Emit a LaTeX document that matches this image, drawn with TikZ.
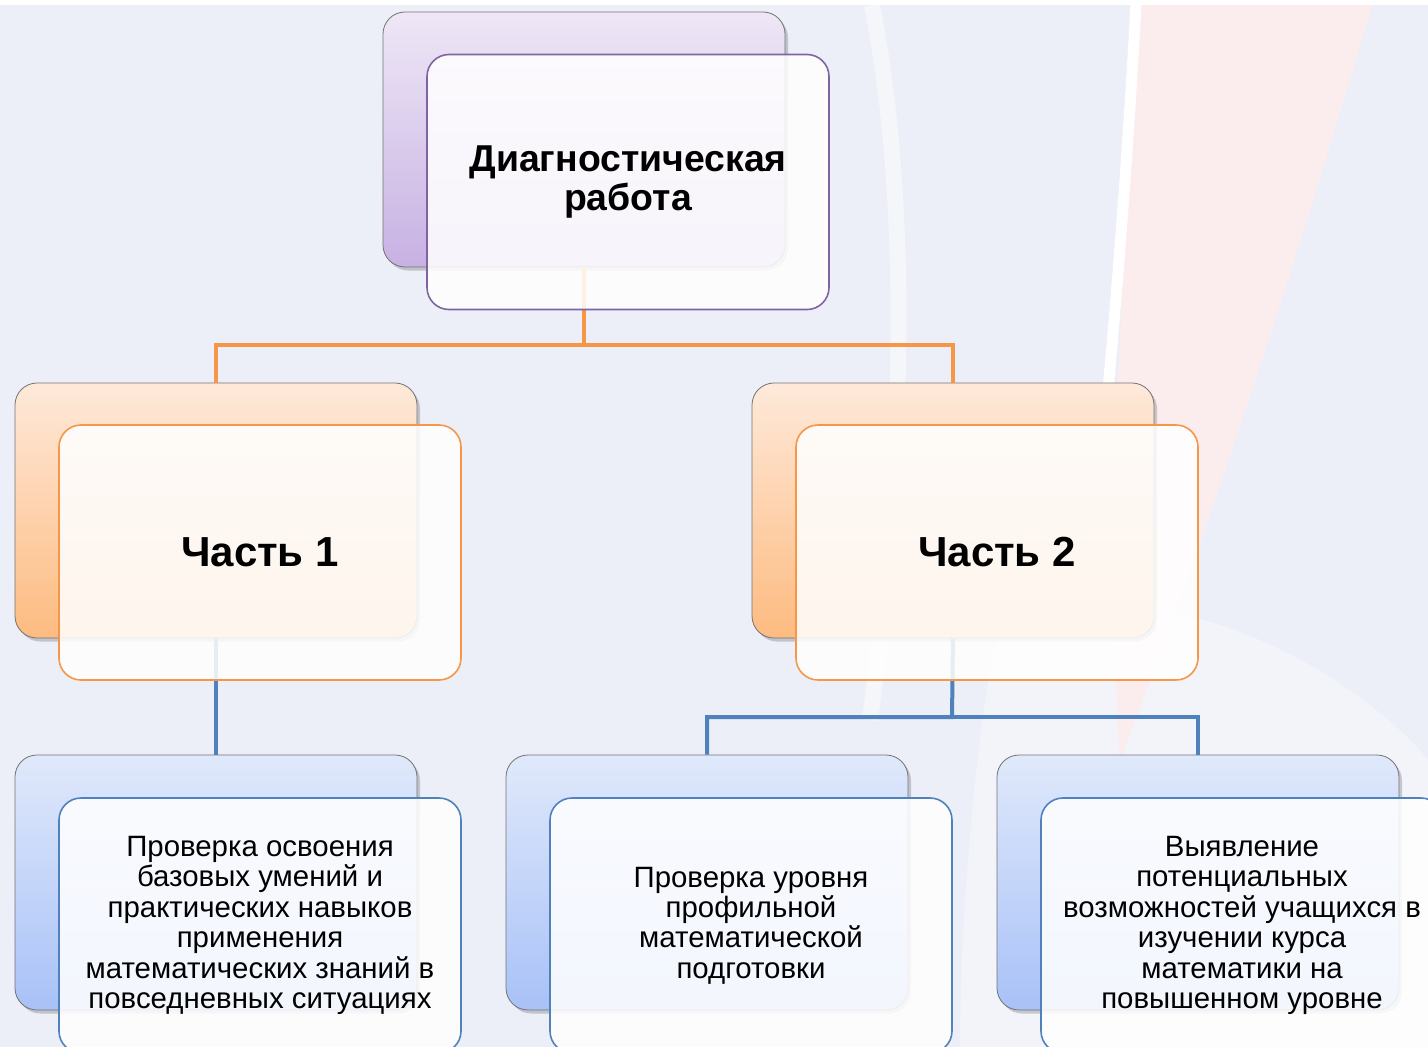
\documentclass[tikz,border=0pt]{standalone}
\usepackage{fontspec}
\setmainfont{Liberation Sans}
\usetikzlibrary{positioning}
\definecolor{bgc}{HTML}{ECEFF7}
\definecolor{purB}{HTML}{8064A2}
\definecolor{oraB}{HTML}{F79646}
\definecolor{bluB}{HTML}{4F81BD}
\definecolor{purT}{HTML}{EEE7F6}
\definecolor{purD}{HTML}{C7B1E3}
\definecolor{oraT}{HTML}{FEE9DA}
\definecolor{oraD}{HTML}{FDBB80}
\definecolor{bluT}{HTML}{E0E9FB}
\definecolor{bluD}{HTML}{A8C1F7}
\definecolor{pinkbg}{HTML}{FBEDEE}
\tikzset{
  backbox/.style={rounded corners=22pt, minimum width=402pt, minimum height=255pt, draw=black!55, line width=0.8pt, inner sep=0pt},
  frontbox/.style={rounded corners=22pt, minimum width=402pt, minimum height=255pt, fill=white, fill opacity=0.86, text opacity=1, line width=1.6pt, align=center, inner sep=0pt},
  shadowbox/.style={rounded corners=22pt, minimum width=402pt, minimum height=255pt, fill=black, fill opacity=0.18, inner sep=0pt},
  conn/.style={line width=4pt},
  headtxt/.style={font=\bfseries\fontsize{37.4}{38.5}\selectfont},
  parttxt/.style={font=\bfseries\fontsize{42}{48}\selectfont},
  smalltxt/.style={font=\fontsize{29.4}{30.4}\selectfont}
}
\begin{document}
\begin{tikzpicture}[x=1pt,y=-1pt]
\useasboundingbox (0,0) rectangle (1428,1047);
\clip (0,0) rectangle (1428,1047);
% background
\fill[bgc] (0,0) rectangle (1428,1047);
\fill[white,opacity=0.35] (1000,620) .. controls (1200,560) and (1380,700) .. (1428,760) -- (1428,1047) -- (960,1047) .. controls (960,900) and (980,700) .. (1000,620);
\fill[pinkbg] (1142,5) -- (1372,5) .. controls (1300,250) and (1220,500) .. (1120,760) .. controls (1110,600) and (1110,400) .. (1142,5);
\draw[white,line width=11pt] (1136,5) .. controls (1128,150) and (1118,280) .. (1108,390);
\draw[white,line width=16pt,opacity=0.45] (872,5) .. controls (910,200) and (905,450) .. (870,720);
\fill[white] (0,0) rectangle (1428,5);
% connectors
\coordinate (j1) at (584,345);
\coordinate (j2) at (952,717);
% back boxes
\node[shadowbox] at (587,143) {};
\node[shadowbox] at (219,514) {};
\node[shadowbox] at (956,514) {};
\node[shadowbox] at (219,886) {};
\node[shadowbox] at (710,886) {};
\node[shadowbox] at (1201,886) {};
\node[backbox, top color=purT, bottom color=purD] (tb) at (584,139.5) {};
\node[backbox, top color=oraT, bottom color=oraD] (p1b) at (216,510.5) {};
\node[backbox, top color=oraT, bottom color=oraD] (p2b) at (953,510.5) {};
\node[backbox, top color=bluT, bottom color=bluD] (b1b) at (216,882.5) {};
\node[backbox, top color=bluT, bottom color=bluD] (b2b) at (707,882.5) {};
\node[backbox, top color=bluT, bottom color=bluD] (b3b) at (1198,882.5) {};
\draw[conn, oraB] (tb.south) -- (j1) -| (p1b.north);
\draw[conn, oraB] (j1) -| (p2b.north);
\draw[conn, bluB] (p1b.south) -- (b1b.north);
\draw[conn, bluB] (p2b.south) -- (j2) -| (b2b.north);
\draw[conn, bluB] (j2) -| (b3b.north);
% front boxes
\node[frontbox, draw=purB, headtxt] (tf) at (628,182) {Диагностическая\\работа};
\node[frontbox, draw=oraB, parttxt] (p1f) at (260,552.5) {Часть 1};
\node[frontbox, draw=oraB, parttxt] (p2f) at (997,552.5) {Часть 2};
\node[frontbox, draw=bluB, smalltxt] (b1f) at (260,925.5) {Проверка освоения\\базовых умений и\\практических навыков\\применения\\математических знаний в\\повседневных ситуациях};
\node[frontbox, draw=bluB, smalltxt] (b2f) at (751,925.5) {Проверка уровня\\профильной\\математической\\подготовки};
\node[frontbox, draw=bluB, smalltxt] (b3f) at (1242,925.5) {Выявление\\потенциальных\\возможностей учащихся в\\изучении курса\\математики на\\повышенном уровне};
\end{tikzpicture}
\end{document}
